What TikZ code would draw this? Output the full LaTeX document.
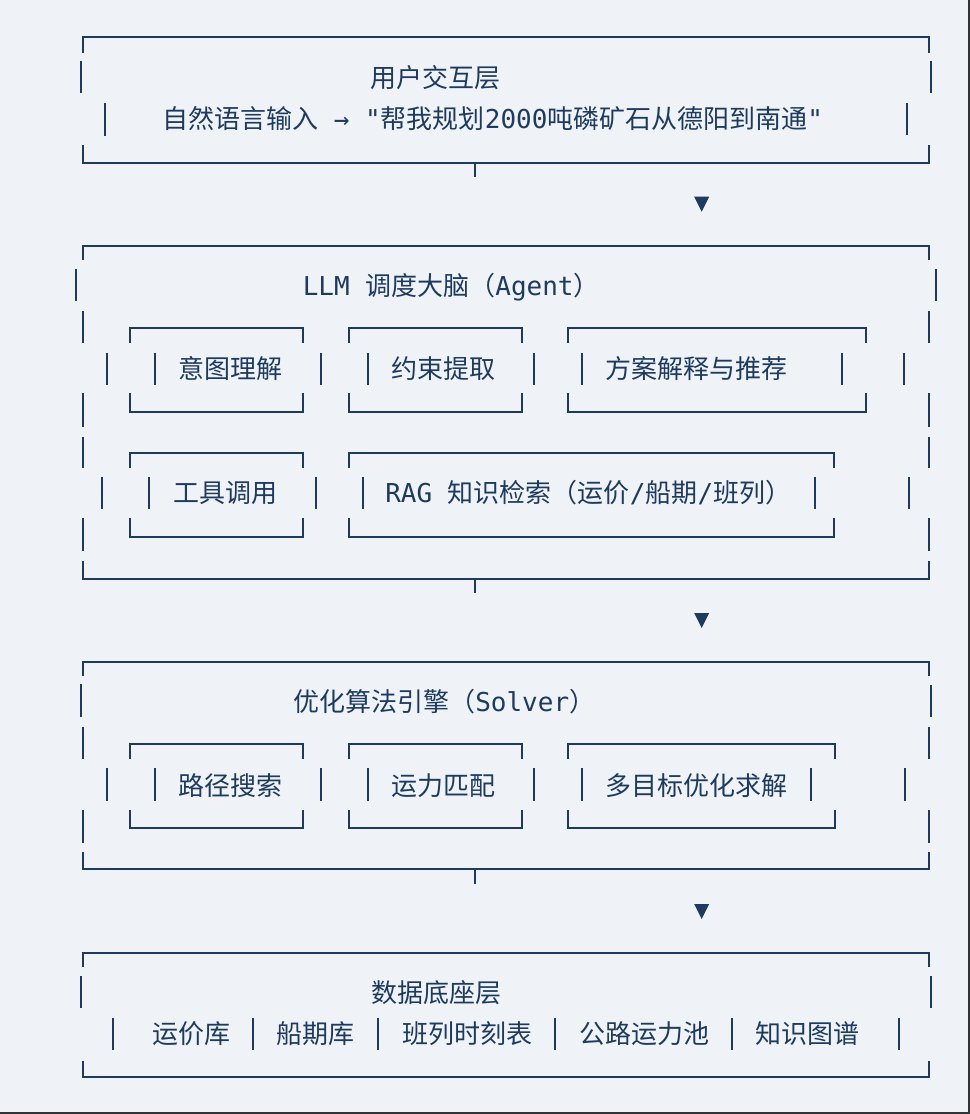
\documentclass[tikz,border=0pt]{standalone}
\usepackage{fontspec}
\newfontfamily\mono{DejaVu Sans Mono}
\newfontfamily\cjk{Noto Sans CJK SC}
\definecolor{ink}{RGB}{30,58,95}
\definecolor{paper}{RGB}{239,243,248}
\begin{document}
\begin{tikzpicture}[x=0.75pt,y=-0.75pt,
  every node/.style={font=\mono\fontsize{19.5}{23}\selectfont,text=ink,inner sep=0pt,anchor=base west},
  rule/.style={draw=ink,line width=1.5pt}]
\fill[paper] (0,0) rectangle (970,1114);
\useasboundingbox (0,0) rectangle (970,1114);
\draw[black!80,line width=1.5pt] (968.5,0) -- (968.5,1113) -- (0,1113);
% outer layer brackets
\foreach \t/\tt/\bt/\b in {37.3/52.7/145/162.7,245.7/260/561/579,
  661.7/676/851.7/869.3,952.7/966.7/1060.7/1077.3}{
 \draw[rule] (83.3,\tt) |- (929,\t) -- (929,\tt);
 \draw[rule] (83.3,\bt) |- (929,\b) -- (929,\bt);}
% inner boxes
\foreach \xa/\xb/\t/\tt/\bt/\b in {130/302.7/328.3/343/393.3/411.7,
  349/521.7/328.3/343/393.3/411.7,568.3/866/328.3/343/393.3/411.7,
  130/302.7/453.3/468/518.3/536.7,349.3/834.3/453.3/468/518.3/536.7,
  130/302.7/744.3/759.3/810/827.7,349/521.7/744.3/759.3/810/827.7,
  568.3/834.7/744.3/759.3/810/827.7}{
 \draw[rule] (\xa,\tt) |- (\xb,\t) -- (\xb,\tt);
 \draw[rule] (\xa,\bt) |- (\xb,\b) -- (\xb,\bt);}
% side bars
\foreach \x/\ya/\yb in {81/60.7/93.3,931/60.7/93,105/103/135.7,906.7/103/135,
  75.7/269/301,935.7/269/301,83.3/311/343,929/311/343,
  83.3/393/426.7,929/393/426.7,83.3/436.7/468,928.7/436.7/468,
  83.3/518.3/550.7,929/518.3/550.7,
  81/684.3/716.7,930.7/685/716.7,83.3/726.7/759.3,929/726.7/759,
  83.3/810/842.7,929/810/842.7,81/976/1008.3,931/976/1008.3}
 \draw[rule] (\x,\ya) -- (\x,\yb);
\foreach \x in {107.3,155,321,367.7,534,581.7,841.7,904.3}
 \draw[rule] (\x,352.7) -- (\x,385.3);
\foreach \x in {102.3,149.3,316,362.7,815.3,909.3}
 \draw[rule] (\x,476.7) -- (\x,509.3);
\foreach \x in {107.3,155,321,367.7,534,581.7,810.7,905}
 \draw[rule] (\x,768.3) -- (\x,801);
\foreach \x in {112.7,253.3,378.3,555,732.3,899}
 \draw[rule] (\x,1017.7) -- (\x,1050);
% links between layers
\foreach \ya/\yb/\y in {162.7/177/196.7,579/593/613,869.3/884.3/904}{
 \draw[rule] (474.7,\ya) -- (474.7,\yb);
 \fill[ink] (694.2,\y) -- (709.2,\y) -- (701.7,\y+15) -- cycle;}
% user layer
\node (ttlA) at (370.5,87) {\cjk 用户交互层};
\node (inA) at (162,128.5) {{\cjk 自然语言输入} → "{\cjk 帮我规划}2000{\cjk 吨磷矿石从德阳到南通}"};
% agent layer
\node (ttlB) at (302.5,295) {LLM {\cjk 调度大脑（}Agent{\cjk ）}};
\foreach \name/\x/\y/\txt in {intent/178/378/意图理解,limit/391.5/378/约束提取,
  explain/605.5/378/方案解释与推荐,tools/173/502/工具调用}
 \node (\name) at (\x,\y) {\cjk \txt};
\node (rag) at (385,502) {RAG {\cjk 知识检索（运价}/{\cjk 船期}/{\cjk 班列）}};
% solver layer
\node (ttlC) at (293,711) {{\cjk 优化算法引擎（}Solver{\cjk ）}};
\foreach \name/\x/\txt in {route/178/路径搜索,match/391.5/运力匹配,multi/605.5/多目标优化求解}
 \node (\name) at (\x,795) {\cjk \txt};
% data layer
\node (ttlD) at (371,1002) {\cjk 数据底座层};
\foreach \name/\x/\txt in {price/152/运价库,ship/276/船期库,rail/402/班列时刻表,
  truck/579/公路运力池,graph/755.5/知识图谱}
 \node (\name) at (\x,1043) {\cjk \txt};
\end{tikzpicture}
\end{document}
